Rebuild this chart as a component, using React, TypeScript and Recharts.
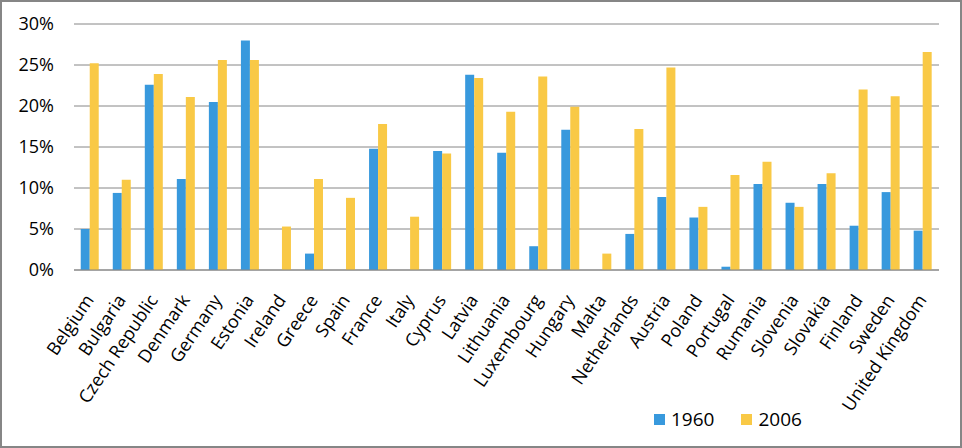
import React from 'react';
import { BarChart, Bar, XAxis, YAxis, CartesianGrid, Legend } from 'recharts';

const countries = [
  'Belgium', 'Bulgaria', 'Czech Republic', 'Denmark', 'Germany', 'Estonia', 'Ireland',
  'Greece', 'Spain', 'France', 'Italy', 'Cyprus', 'Latvia', 'Lithuania', 'Luxembourg',
  'Hungary', 'Malta', 'Netherlands', 'Austria', 'Poland', 'Portugal', 'Rumania',
  'Slovenia', 'Slovakia', 'Finland', 'Sweden', 'United Kingdom',
];

const values1960 = [
  5.0, 9.4, 22.6, 11.1, 20.5, 28.0, 0, 2.0, 0, 14.8, 0, 14.5, 23.8, 14.3, 2.9,
  17.1, 0, 4.4, 8.9, 6.4, 0.4, 10.5, 8.2, 10.5, 5.4, 9.5, 4.8,
];

const values2006 = [
  25.2, 11.0, 23.9, 21.1, 25.6, 25.6, 5.3, 11.1, 8.8, 17.8, 6.5, 14.2, 23.4, 19.3, 23.6,
  19.9, 2.0, 17.2, 24.7, 7.7, 11.6, 13.2, 7.7, 11.8, 22.0, 21.2, 26.6,
];

const yTicks = [0, 5, 10, 15, 20, 25, 30];

const data = countries.map((name, i) => ({
  name,
  y1960: values1960[i],
  y2006: values2006[i],
}));

const BLUE = '#3899DD';
const YELLOW = '#F9C946';
const FONT = '"Open Sans", sans-serif';

const CountryTick = (props: any) => {
  const { x, y, payload } = props;
  return (
    <g transform={`translate(${x - 3},${y + 17})`}>
      <text
        x={0}
        y={0}
        dy={9}
        textAnchor="end"
        transform="rotate(-56)"
        fontSize={18}
        fontFamily={FONT}
        fill="#000"
      >
        {payload.value}
      </text>
    </g>
  );
};

const LegendContent = () => (
  <div style={{ display: 'flex', alignItems: 'center', fontFamily: FONT, fontSize: 19, color: '#000' }}>
    <span style={{ width: 11, height: 11, background: BLUE, display: 'inline-block', marginRight: 6 }} />
    <span style={{ marginRight: 27 }}>1960</span>
    <span style={{ width: 11, height: 11, background: YELLOW, display: 'inline-block', marginRight: 6 }} />
    <span>2006</span>
  </div>
);

export default function App() {
  return (
    <div style={{ position: 'absolute', left: 0, top: 0, width: 962, height: 448, background: '#fff' }}>
      <BarChart
        width={962}
        height={448}
        data={data}
        margin={{ top: 24, right: 23, left: 0, bottom: 0 }}
        barCategoryGap="21%"
        barGap={0}
      >
        <CartesianGrid vertical={false} stroke="#868686" strokeWidth={1} />
        <XAxis
          dataKey="name"
          interval={0}
          height={154}
          tick={<CountryTick />}
          tickLine={false}
          axisLine={{ stroke: '#868686' }}
        />
        <YAxis
          width={74}
          domain={[0, 30]}
          ticks={yTicks}
          tickFormatter={(v) => `${v}%`}
          axisLine={false}
          tickLine={false}
          tickSize={0}
          tickMargin={20}
          tick={{ fontSize: 18, fontFamily: FONT, fill: '#000' }}
        />
        <Legend
          verticalAlign="bottom"
          content={<LegendContent />}
          wrapperStyle={{ left: 654, width: 180, bottom: 18, height: 24 }}
        />
        <Bar dataKey="y1960" name="1960" fill={BLUE} isAnimationActive={false} />
        <Bar dataKey="y2006" name="2006" fill={YELLOW} isAnimationActive={false} />
      </BarChart>
      <div
        style={{
          position: 'absolute',
          left: 0,
          top: 0,
          width: 962,
          height: 448,
          boxSizing: 'border-box',
          border: '2px solid #868686',
          pointerEvents: 'none',
        }}
      />
    </div>
  );
}
